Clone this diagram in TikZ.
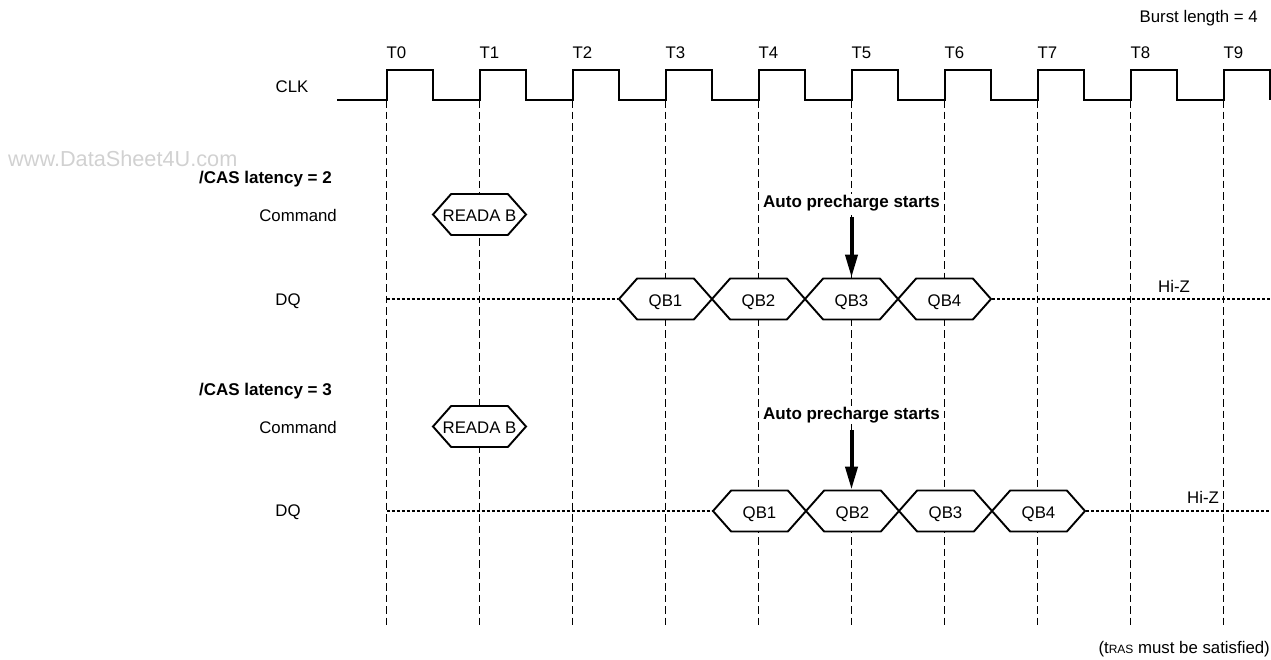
\documentclass[tikz,border=0pt]{standalone}
\usepackage{fontspec}
\setmainfont{Liberation Sans}
\usepackage{xcolor}
\usetikzlibrary{arrows.meta,shapes.symbols}

\definecolor{markgray}{gray}{0.82}

\tikzset{
  label/.style={font=\fontsize{16.8}{19}\selectfont,inner sep=0pt},
  boldlabel/.style={font=\fontsize{17}{19}\selectfont\bfseries,inner sep=0pt},
  wave/.style={line width=2pt,line join=miter},
  clockline/.style={line width=1pt,dash pattern=on 7.5pt off 4pt},
  hiz/.style={line width=1.8pt,dash pattern=on 3pt off 2pt},
  burst/.style={signal,signal to=east and west,signal pointer angle=97,draw,fill=white,
                line width=1.9pt,minimum width=93pt,minimum height=41pt,inner sep=0pt,
                text height=14pt,text depth=0pt,font=\fontsize{16.8}{19}\selectfont},
  startarrow/.style={line width=4pt,-{Triangle[length=23pt,width=12pt]},shorten <=1pt}
}

\begin{document}
\begin{tikzpicture}[x=1pt,y=-1pt]
\useasboundingbox (0,0) rectangle (1271,659);

% clock grid
\foreach \i in {0,...,9} {
  \node[label] (T\i) at (396.5+93*\i,53) {T\i};
  \coordinate (top\i) at (386.5+93*\i,100);
  \coordinate (bot\i) at (386.5+93*\i,627);
  \draw[clockline] (top\i) -- (bot\i);
}

\draw[wave] (337,100) foreach \i in {0,...,9} {
  -- (386.5+93*\i,100) -- ++(0,-30) -- ++(46.5,0) -- ++(0,30)};

\node[label] (clk) at (292,87) {CLK};
\node[label,anchor=east] (burstlen) at (1258,18) {Burst length = 4};
\node[font=\fontsize{21.7}{24}\selectfont,text=markgray,inner sep=0pt,anchor=west] (mark) at (8,159) {www.DataSheet4U.com};
\node[label,anchor=east] (tras) at (1270,649) {(t{\fontsize{12}{14}\selectfont RAS} must be satisfied)};

% /CAS latency = 2
\node[boldlabel,anchor=east] (cas2) at (332,179) {/CAS latency = 2};
\node[label,anchor=east] (cmd2) at (337,215) {Command};
\node[label] (dq2) at (288,301) {DQ};
\node[burst] (read2) at (479.5,214.5) {\makebox[0pt]{READA B}};
\coordinate (start2) at (386.5,299);
\coordinate (end2) at (1271,299);
\node[burst] (b2q1) at (665.5,299) {QB1};
\node[burst] (b2q2) at (758.5,299) {QB2};
\node[burst] (b2q3) at (851.5,299) {QB3};
\node[burst] (b2q4) at (944.5,299) {QB4};
\draw[hiz] (start2) -- (b2q1.west);
\draw[hiz] (b2q4.east) -- (end2);
\node[label] (hiz2) at (1174,286) {Hi-Z};
\node[boldlabel,fill=white,inner sep=1pt] (auto2) at (851.5,203) {Auto precharge starts};
\draw[startarrow] (auto2.south |- 0,216) -- (b2q3.north);

% /CAS latency = 3
\node[boldlabel,anchor=east] (cas3) at (332,391) {/CAS latency = 3};
\node[label,anchor=east] (cmd3) at (337,427) {Command};
\node[label] (dq3) at (288,512) {DQ};
\node[burst] (read3) at (479.5,426.5) {\makebox[0pt]{READA B}};
\coordinate (start3) at (386.5,511);
\coordinate (end3) at (1271,511);
\node[burst] (b3q1) at (759.5,511) {QB1};
\node[burst] (b3q2) at (852.5,511) {QB2};
\node[burst] (b3q3) at (945.5,511) {QB3};
\node[burst] (b3q4) at (1038.5,511) {QB4};
\draw[hiz] (start3) -- (b3q1.west);
\draw[hiz] (b3q4.east) -- (end3);
\node[label] (hiz3) at (1203,497) {Hi-Z};
\node[boldlabel,fill=white,inner sep=1pt] (auto3) at (851.5,415) {Auto precharge starts};
\draw[startarrow] (auto3.south |- 0,429) -- (auto3.south |- b3q2.north);

\end{tikzpicture}
\end{document}
